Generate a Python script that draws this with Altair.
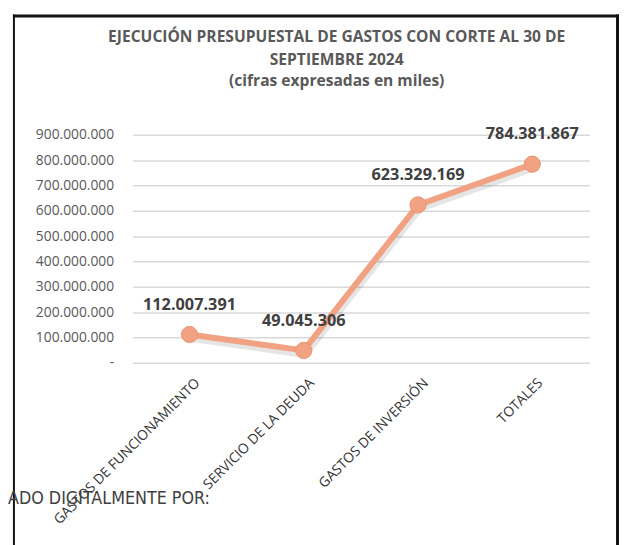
import altair as alt
import pandas as pd

categories = ["GASTOS DE FUNCIONAMIENTO", "SERVICIO DE LA DEUDA", "GASTOS DE INVERSIÓN", "TOTALES"]
values = [112007391, 49045306, 623329169, 784381867]
title_lines = ["EJECUCIÓN PRESUPUESTAL DE GASTOS CON CORTE AL 30 DE", "SEPTIEMBRE 2024", "(cifras expresadas en miles)"]
footer_text = "ADO DIGITALMENTE POR:"
y_ticks = [0, 100000000, 200000000, 300000000, 400000000, 500000000, 600000000, 700000000, 800000000, 900000000]

df = pd.DataFrame({"cat": categories, "val": values})

LINE_COLOR = "#F1A283"
FONT = "Open Sans"

x_enc = alt.X("cat:N", sort=categories, title=None,
              scale=alt.Scale(paddingInner=0, paddingOuter=0),
              axis=alt.Axis(labelAngle=-45, labelAlign="right", labelBaseline="top",
                            labelPadding=13, labelOffset=3, ticks=False, domain=False,
                            labelFont=FONT, labelFontSize=14, labelFontWeight="normal",
                            labelColor="#333333", labelLimit=400, grid=False, labelOverlap=False))
y_enc = alt.Y("val:Q", title=None,
              scale=alt.Scale(domain=[0, 900000000], nice=False),
              axis=alt.Axis(values=y_ticks, format=",d", labelOverlap=False,
                            labelExpr="datum.value == 0 ? '-' : datum.label",
                            labelFont=FONT, labelFontSize=14, labelColor="#595959",
                            labelPadding=19, ticks=False, tickSize=0, domain=False,
                            grid=True, gridColor="#D9D9D9", gridWidth=1.5))

base = alt.Chart(df)

shadow = base.mark_line(color="#000000", opacity=0.10, strokeWidth=9, yOffset=3, xOffset=1).encode(x=x_enc, y=y_enc)
line = base.mark_line(color=LINE_COLOR, strokeWidth=6).encode(x=x_enc, y=y_enc)
pts = base.mark_point(filled=True, shape="circle", size=270, color=LINE_COLOR, opacity=1,
                      stroke="#E89373", strokeWidth=1).encode(x=x_enc, y=y_enc)
labels = base.mark_text(dy=-30, font=FONT, fontSize=16.5, fontWeight="bold", color="#404040").encode(
    x=x_enc, y=y_enc, text=alt.Text("val:Q", format=",d"))

def txt(s, x, y, **kw):
    return alt.Chart(pd.DataFrame({"t": [s]})).mark_text(**kw).encode(
        text="t:N", x=alt.value(x), y=alt.value(y))

TS = 15.8
t1 = txt(title_lines[0], 207, -99, font=FONT, fontSize=TS, fontWeight="bold", color="#595959", align="center", baseline="middle")
t2 = txt(title_lines[1], 207, -76, font=FONT, fontSize=TS, fontWeight="bold", color="#595959", align="center", baseline="middle")
t3 = txt(title_lines[2], 207, -54, font=FONT, fontSize=TS, fontWeight="bold", color="#595959", align="center", baseline="middle")
footer = txt(footer_text, -126, 369, font="Liberation Sans Narrow, DejaVu Sans Condensed, sans-serif",
             fontSize=18, color="#404040", align="left", baseline="middle")

one = pd.DataFrame({"a": [0]})
b_top = alt.Chart(one).mark_rect(color="#111111", opacity=1).encode(
    x=alt.value(-121), x2=alt.value(493), y=alt.value(-122), y2=alt.value(-119))
b_left = alt.Chart(one).mark_rect(color="#111111").encode(
    x=alt.value(-121), x2=alt.value(-119), y=alt.value(-122), y2=alt.value(430))
b_right = alt.Chart(one).mark_rect(color="#111111").encode(
    x=alt.value(490), x2=alt.value(493), y=alt.value(-122), y2=alt.value(430))

chart = alt.layer(b_left, b_right, shadow, line, pts, labels, t1, t2, t3, footer, b_top).properties(
    width=463, height=231,
    autosize=alt.AutoSizeParams(type="none"),
    padding={"left": 126, "top": 125, "right": 30, "bottom": 181},
).configure(
    locale={"number": {"decimal": ",", "thousands": ".", "grouping": [3], "currency": ["$", ""]}},
    view=alt.ViewConfig(stroke=None),
)

chart.save("out.html", embed_options={"renderer": "svg", "actions": False})
